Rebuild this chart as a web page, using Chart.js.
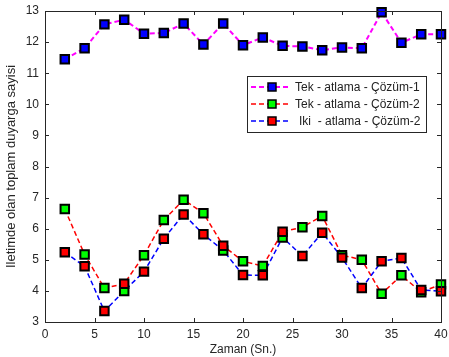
<!DOCTYPE html>
<html>
<head>
<meta charset="utf-8">
<script src="https://cdn.jsdelivr.net/npm/chart.js@4.4.1/dist/chart.umd.min.js"></script>
<style>
  html, body { margin: 0; padding: 0; background: #fff; }
  #wrap { width: 449px; height: 357px; }
</style>
</head>
<body>
<div id="wrap"><canvas id="chart" width="449" height="357"></canvas></div>
<script>
const times = [2, 4, 6, 8, 10, 12, 14, 16, 18, 20, 22, 24, 26, 28, 30, 32, 34, 36, 38, 40]

// Tek - atlama - Çözüm-1 (magenta line, blue squares)
const tekCozum1 = [11.45, 11.8, 12.57, 12.72, 12.27, 12.29, 12.6, 11.92, 12.6, 11.9,
  12.15, 11.88, 11.86, 11.74, 11.83, 11.8, 12.96, 11.98, 12.25, 12.25]

// green squares
const tekCozum2Marks = [6.63, 5.17, 4.09, 4.0, 5.15, 6.28, 6.93, 6.5, 5.3, 4.95,
  4.8, 5.72, 6.05, 6.41, 5.15, 5.0, 3.91, 4.5, 3.96, 4.21]
// red dashed line (crosses over where the two series meet)
const tekCozum2Line = [6.63, 5.17, 4.09, 4.23, 5.15, 6.28, 6.93, 6.5, 5.45, 4.95,
  4.8, 5.9, 6.05, 6.41, 5.15, 5.0, 3.91, 4.5, 3.96, 4.21]

// red squares
const ikiCozum2Marks = [5.24, 4.79, 3.35, 4.23, 4.62, 5.68, 6.46, 5.82, 5.45, 4.51,
  4.5, 5.9, 5.12, 5.87, 5.07, 4.09, 4.95, 5.06, 4.03, 3.99]
// blue dashed line
const ikiCozum2Line = [5.24, 4.79, 3.35, 4.0, 4.62, 5.68, 6.46, 5.82, 5.3, 4.51,
  4.5, 5.72, 5.12, 5.87, 5.07, 4.09, 4.95, 5.06, 4.03, 3.99]

const legendLabels = ['Tek - atlama - Çözüm-1', 'Tek - atlama - Çözüm-2', 'Iki  - atlama - Çözüm-2']
const xTicks = [0, 5, 10, 15, 20, 25, 30, 35, 40]
const yTicks = [3, 4, 5, 6, 7, 8, 9, 10, 11, 12, 13]

const FONT = 'Liberation Sans, Arial, sans-serif'
const INK = '#262626'

function pts(vals) {
  return vals.map((v, i) => ({ x: times[i], y: v }))
}

const legendStyles = [
  { line: '#ff00ff', fill: '#0000ff', width: 2 },
  { line: '#ff0000', fill: '#00ff00', width: 1.5 },
  { line: '#0000ff', fill: '#ff0000', width: 1.5 },
]

// inward ticks, axes box and the legend
const boxPlugin = {
  id: 'boxPlugin',
  afterDraw(chart) {
    const ctx = chart.ctx
    const a = chart.chartArea
    const xs = chart.scales.x
    const ys = chart.scales.y
    ctx.save()
    ctx.strokeStyle = INK
    ctx.lineWidth = 1
    ctx.beginPath()
    xTicks.forEach(t => {
      const px = Math.round(xs.getPixelForValue(t)) + 0.5
      ctx.moveTo(px, a.bottom); ctx.lineTo(px, a.bottom - 4)
      ctx.moveTo(px, a.top); ctx.lineTo(px, a.top + 4)
    })
    yTicks.forEach(t => {
      const py = Math.round(ys.getPixelForValue(t)) + 0.5
      ctx.moveTo(a.left, py); ctx.lineTo(a.left + 4, py)
      ctx.moveTo(a.right, py); ctx.lineTo(a.right - 4, py)
    })
    ctx.stroke()
    ctx.strokeRect(Math.round(a.left) + 0.5, Math.round(a.top) + 0.5,
      Math.round(a.right - a.left), Math.round(a.bottom - a.top))

    // legend
    const lx = 247, ly = 76, lw = 179, lh = 56
    ctx.fillStyle = '#fff'
    ctx.fillRect(lx, ly, lw, lh)
    ctx.strokeRect(lx + 0.5, ly + 0.5, lw, lh)
    ctx.font = '12px ' + FONT
    ctx.textBaseline = 'middle'
    legendLabels.forEach((label, i) => {
      const y = 87 + i * 17
      const st = legendStyles[i]
      ctx.setLineDash([5, 3])
      ctx.strokeStyle = st.line
      ctx.lineWidth = st.width
      ctx.beginPath()
      ctx.moveTo(251, y); ctx.lineTo(289, y)
      ctx.stroke()
      ctx.setLineDash([])
      ctx.fillStyle = st.fill
      ctx.fillRect(268, y - 4, 8, 8)
      ctx.strokeStyle = '#000'
      ctx.lineWidth = 1.5
      ctx.strokeRect(268, y - 4, 8, 8)
      ctx.fillStyle = '#222'
      ctx.fillText(label, i === 2 ? 299 : 295, y + 1)
    })
    ctx.restore()
  },
}

function markerSet(vals, fill, order) {
  return {
    data: pts(vals),
    showLine: false,
    pointStyle: 'rect',
    pointRadius: 6,
    pointHoverRadius: 6,
    pointBackgroundColor: fill,
    pointBorderColor: '#000',
    pointBorderWidth: 2,
    clip: false,
    order: order,
  }
}

function lineSet(vals, color, width, order) {
  return {
    data: pts(vals),
    borderColor: color,
    borderWidth: width,
    borderDash: [5, 3],
    pointRadius: 0,
    tension: 0,
    fill: false,
    clip: false,
    order: order,
  }
}

const magenta = lineSet(tekCozum1, '#ff00ff', 2, 2)
magenta.pointRadius = 6
magenta.pointStyle = 'rect'
magenta.pointBackgroundColor = '#0000ff'
magenta.pointBorderColor = '#000'
magenta.pointBorderWidth = 2

new Chart(document.getElementById('chart'), {
  type: 'line',
  data: {
    datasets: [
      lineSet(tekCozum2Line, '#ff0000', 1.5, 5),
      lineSet(ikiCozum2Line, '#0000ff', 1.5, 4),
      magenta,
      markerSet(tekCozum2Marks, '#00ff00', 1),
      markerSet(ikiCozum2Marks, '#ff0000', 0),
    ],
  },
  options: {
    responsive: false,
    animation: false,
    events: [],
    layout: { padding: { left: 0, top: 11, right: 4, bottom: 0 } },
    plugins: { legend: { display: false }, tooltip: { enabled: false } },
    scales: {
      x: {
        type: 'linear',
        min: 0,
        max: 40,
        afterBuildTicks: s => { s.ticks = xTicks.map(v => ({ value: v })) },
        afterFit: s => { s.height = 35; s.paddingLeft = 0; s.paddingRight = 0 },
        grid: { display: false, drawTicks: false },
        border: { display: false },
        ticks: { color: INK, font: { family: FONT, size: 12 }, padding: 5, maxRotation: 0 },
        title: { display: true, text: 'Zaman (Sn.)', color: INK, font: { family: FONT, size: 12 }, padding: { top: 0, bottom: 0 } },
      },
      y: {
        min: 3,
        max: 13,
        afterBuildTicks: s => { s.ticks = yTicks.map(v => ({ value: v })) },
        afterFit: s => { s.width = 45; s.paddingTop = 0; s.paddingBottom = 0 },
        grid: { display: false, drawTicks: false },
        border: { display: false },
        ticks: { color: INK, font: { family: FONT, size: 12 }, padding: 6 },
        title: { display: true, text: 'Iletimde olan toplam duyarga sayisi', color: INK, font: { family: FONT, size: 13 }, padding: { top: 4, bottom: 0 } },
      },
    },
  },
  plugins: [boxPlugin],
})
</script>
</body>
</html>
